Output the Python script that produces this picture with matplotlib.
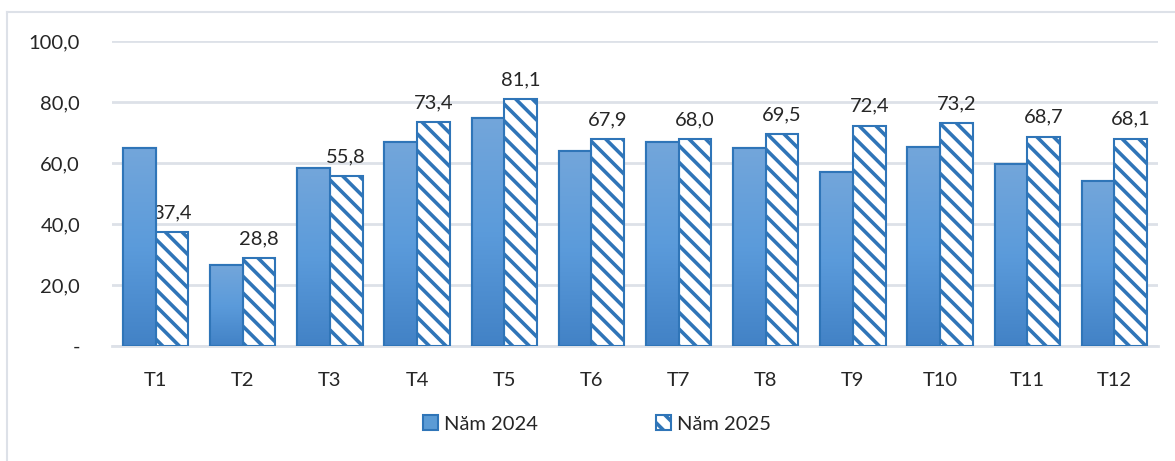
import numpy as np
import matplotlib
matplotlib.use("Agg")
from matplotlib import pyplot as plt
from matplotlib.colors import LinearSegmentedColormap
from matplotlib.lines import Line2D

months = ["T1", "T2", "T3", "T4", "T5", "T6", "T7", "T8", "T9", "T10", "T11", "T12"]
values_2024 = [64.9, 26.6, 58.4, 66.9, 74.8, 63.9, 66.9, 64.9, 57.1, 65.3, 59.8, 54.3]
values_2025 = [37.4, 28.8, 55.8, 73.4, 81.1, 67.9, 68.0, 69.5, 72.4, 73.2, 68.7, 68.1]
series_names = ["Năm 2024", "Năm 2025"]
y_ticks = [0, 20, 40, 60, 80, 100]

plt.rcParams['font.family'] = ['Lato', 'DejaVu Sans']
plt.rcParams['hatch.linewidth'] = 2.6

blue_edge = "#2f75b8"
grad = LinearSegmentedColormap.from_list("bar_grad", ["#4282c6", "#5b9bdb", "#73a6da"])
fs = 14.5

fig = plt.figure(figsize=(11.75, 4.61), dpi=100)
ax = fig.add_axes([112 / 1175, 1 - 346 / 461, (1158 - 112) / 1175, (346 - 41.5) / 461])

x = np.arange(len(months))
w = 0.375
bars1 = ax.bar(x - w / 2, values_2024, w, color="#5b9bd5", edgecolor=blue_edge,
               linewidth=1.5, label=series_names[0], zorder=3)
bars2 = ax.bar(x + w / 2, values_2025, w, color="white", edgecolor=blue_edge,
               linewidth=1.5, hatch="\\\\", label=series_names[1], zorder=3)

# gradient fill for the 2024 bars
gradient = np.linspace(0, 1, 256).reshape(-1, 1)
for b in bars1:
    bx, by = b.get_x(), b.get_y()
    bw, bh = b.get_width(), b.get_height()
    im = ax.imshow(gradient, cmap=grad, aspect="auto", origin="lower",
                   extent=[bx, bx + bw, by, by + bh], zorder=3.5)
    im.set_clip_path(b)
    ax.add_patch(plt.Rectangle((bx, by), bw, bh, fill=False, edgecolor=blue_edge,
                               linewidth=1.5, zorder=4))

for b, v in zip(bars2, values_2025):
    ax.text(b.get_x() + b.get_width() / 2, v + 4.6, f"{v:.1f}".replace(".", ","),
            ha="center", va="baseline", fontsize=fs, color="#262626")

ax.set_xlim(-0.5, len(months) - 0.5)
ax.set_ylim(0, 100)
ax.set_yticks(y_ticks)
ax.set_yticklabels(["-" if t == 0 else f"{t:.1f}".replace(".", ",") for t in y_ticks])
ax.set_xticks(x)
ax.set_xticklabels(months)
ax.tick_params(axis="both", length=0, labelsize=fs, colors="#262626")
ax.tick_params(axis="y", pad=23)
ax.tick_params(axis="x", pad=19)
ax.grid(axis="y", color="#dde1e8", linewidth=2, zorder=0)
for s in ["top", "right", "left"]:
    ax.spines[s].set_visible(False)
ax.spines["bottom"].set_color("#dde1e8")
ax.spines["bottom"].set_linewidth(2)

fig.legend(handles=[bars1, bars2], labels=series_names, loc="center",
           bbox_to_anchor=(597 / 1175, 1 - 424 / 461), ncol=2, frameon=False,
           fontsize=fs, handlelength=0.7, handleheight=0.7, handletextpad=0.3,
           columnspacing=5.9, labelcolor="#262626")

# chart frame (top and left edges visible)
fig.add_artist(Line2D([7 / 1175, 7 / 1175], [0, 1 - 12 / 461], transform=fig.transFigure,
                      color="#dde1e8", linewidth=1.5))
fig.add_artist(Line2D([7 / 1175, 1], [1 - 12 / 461, 1 - 12 / 461], transform=fig.transFigure,
                      color="#dde1e8", linewidth=1.5))

fig.savefig("out.png", dpi=100)
